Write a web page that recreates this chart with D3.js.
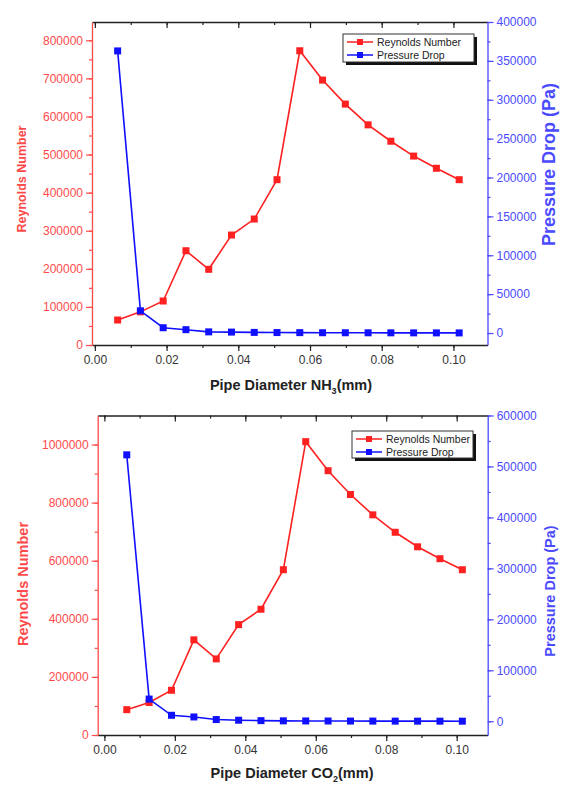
<!DOCTYPE html>
<html>
<head>
<meta charset="utf-8">
<script src="https://cdn.jsdelivr.net/npm/d3@7"></script>
<style>
  html, body { margin: 0; padding: 0; background: #fff; }
  svg { display: block; font-family: "Liberation Sans", Arial, sans-serif; }
</style>
</head>
<body>
<svg id="chart" width="564" height="785"></svg>
<script>
// ---------- DATA ----------
const diameters = [0.00635, 0.0127, 0.01905, 0.0254, 0.03175, 0.0381, 0.04445, 0.0508,
                   0.05715, 0.0635, 0.06985, 0.0762, 0.08255, 0.0889, 0.09525, 0.1016];

const reynoldsNH3 = [65600, 87000, 115500, 247500, 198700, 288700, 330700, 434000,
                     772500, 695500, 632500, 578000, 535000, 496000, 464000, 434000];
const pressureNH3 = [362800, 28600, 6800, 4300, 1500, 1200, 800, 600,
                     500, 400, 350, 300, 250, 200, 180, 150];

const reynoldsCO2 = [87200, 112000, 154000, 327600, 262000, 380000, 433000, 569000,
                     1010000, 910000, 828000, 758000, 698000, 648000, 607000, 569000];
const pressureCO2 = [522800, 43500, 11700, 8400, 3300, 2000, 1200, 800,
                     600, 450, 350, 280, 220, 180, 150, 120];

const xTicks = [0.00, 0.02, 0.04, 0.06, 0.08, 0.10];
const reTicksNH3 = [0, 100000, 200000, 300000, 400000, 500000, 600000, 700000, 800000];
const pdTicksNH3 = [0, 50000, 100000, 150000, 200000, 250000, 300000, 350000, 400000];
const reTicksCO2 = [0, 200000, 400000, 600000, 800000, 1000000];
const pdTicksCO2 = [0, 100000, 200000, 300000, 400000, 500000, 600000];

const seriesNames = ["Reynolds Number", "Pressure Drop"];

// ---------- STYLE ----------
const RED = "#ff2020", BLUE = "#1010ff";
const RED_TXT = "#ff4a4a", BLUE_TXT = "#4a4aff";
const svg = d3.select("#chart");

function panel(cfg) {
  const g = svg.append("g");
  const x = d3.scaleLinear().domain(cfg.xDomain).range([cfg.left, cfg.right]);
  const yL = d3.scaleLinear().domain(cfg.reDomain).range([cfg.bottom, cfg.top]);
  const yR = d3.scaleLinear().domain(cfg.pdDomain).range([cfg.bottom, cfg.top]);

  // bottom axis (minor ticks)
  const xMinor = d3.range(0, cfg.xDomain[1] + 1e-9, 0.01);
  g.append("g").attr("transform", `translate(0,${cfg.bottom})`)
    .call(d3.axisBottom(x).tickValues(xMinor).tickSize(3).tickFormat(""))
    .call(a => a.select(".domain").remove())
    .selectAll("line").attr("stroke", "#222").attr("stroke-width", 1.2);
  const xAx = g.append("g").attr("transform", `translate(0,${cfg.bottom})`)
    .call(d3.axisBottom(x).tickValues(xTicks).tickSize(6).tickSizeOuter(0).tickPadding(4)
      .tickFormat(d3.format(".2f")));
  xAx.select(".domain").attr("stroke", "#222").attr("stroke-width", 1.3);
  xAx.selectAll("line").attr("stroke", "#222").attr("stroke-width", 1.2);
  xAx.selectAll("text").attr("fill", "#333").style("font-size", "12px");

  // top axis (mirrored, inward ticks)
  g.append("g").attr("transform", `translate(0,${cfg.top})`)
    .call(d3.axisTop(x).tickValues(xMinor).tickSize(-3).tickFormat(""))
    .call(a => a.select(".domain").remove())
    .selectAll("line").attr("stroke", "#222").attr("stroke-width", 1.2);
  const tAx = g.append("g").attr("transform", `translate(0,${cfg.top})`)
    .call(d3.axisTop(x).tickValues(xTicks).tickSize(-6).tickSizeOuter(0).tickFormat(""));
  tAx.select(".domain").attr("stroke", "#222").attr("stroke-width", 1.3);
  tAx.selectAll("line").attr("stroke", "#222").attr("stroke-width", 1.2);

  // left axis
  const reMinor = d3.range(0, cfg.reDomain[1], cfg.reStep / 2);
  g.append("g").attr("transform", `translate(${cfg.left},0)`)
    .call(d3.axisLeft(yL).tickValues(reMinor).tickSize(3).tickFormat(""))
    .call(a => a.select(".domain").remove())
    .selectAll("line").attr("stroke", RED_TXT).attr("stroke-width", 1.2);
  const lAx = g.append("g").attr("transform", `translate(${cfg.left},0)`)
    .call(d3.axisLeft(yL).tickValues(cfg.reTicks).tickSize(6).tickSizeOuter(0).tickPadding(3)
      .tickFormat(d3.format("d")));
  lAx.select(".domain").attr("stroke", RED_TXT).attr("stroke-width", 1.3);
  lAx.selectAll("line").attr("stroke", RED_TXT).attr("stroke-width", 1.2);
  lAx.selectAll("text").attr("fill", RED_TXT).style("font-size", "12px");

  // right axis
  const pdMinor = d3.range(0, cfg.pdDomain[1] + 1, cfg.pdStep / 2);
  g.append("g").attr("transform", `translate(${cfg.right},0)`)
    .call(d3.axisRight(yR).tickValues(pdMinor).tickSize(3).tickFormat(""))
    .call(a => a.select(".domain").remove())
    .selectAll("line").attr("stroke", BLUE_TXT).attr("stroke-width", 1.2);
  const rAx = g.append("g").attr("transform", `translate(${cfg.right},0)`)
    .call(d3.axisRight(yR).tickValues(cfg.pdTicks).tickSize(6).tickSizeOuter(0).tickPadding(3)
      .tickFormat(d3.format("d")));
  rAx.select(".domain").attr("stroke", BLUE_TXT).attr("stroke-width", 1.3);
  rAx.selectAll("line").attr("stroke", BLUE_TXT).attr("stroke-width", 1.2);
  rAx.selectAll("text").attr("fill", BLUE_TXT).style("font-size", "12px");

  // series
  const reData = diameters.map((d, i) => [d, cfg.re[i]]);
  const pdData = diameters.map((d, i) => [d, cfg.pd[i]]);
  const lineL = d3.line().x(d => x(d[0])).y(d => yL(d[1]));
  const lineR = d3.line().x(d => x(d[0])).y(d => yR(d[1]));

  function drawSeries(data, line, yS, color) {
    g.append("path").datum(data).attr("d", line)
      .attr("fill", "none").attr("stroke", color).attr("stroke-width", 1.6);
    g.selectAll(null).data(data).enter().append("rect")
      .attr("x", d => x(d[0]) - 3.5).attr("y", d => yS(d[1]) - 3.5)
      .attr("width", 7).attr("height", 7).attr("fill", color);
  }
  drawSeries(reData, lineL, yL, RED);
  drawSeries(pdData, lineR, yR, BLUE);

  // titles
  const T = cfg.titles;
  g.append("text").attr("transform", `translate(${T.lx},${T.ly}) rotate(-90)`)
    .attr("text-anchor", "middle").attr("fill", RED_TXT)
    .style("font-size", T.ls + "px").style("font-weight", "bold").text("Reynolds Number");
  g.append("text").attr("transform", `translate(${T.rx},${T.ry}) rotate(-90)`)
    .attr("text-anchor", "middle").attr("fill", BLUE_TXT)
    .style("font-size", T.rs + "px").style("font-weight", "bold").text("Pressure Drop (Pa)");
  const xt = g.append("text").attr("x", T.xx).attr("y", T.xy)
    .attr("text-anchor", "middle").attr("fill", "#222")
    .style("font-size", "14.5px").style("font-weight", "bold");
  xt.append("tspan").text("Pipe Diameter " + cfg.gas);
  xt.append("tspan").attr("dy", 4).style("font-size", "9px").text(cfg.sub);
  xt.append("tspan").attr("dy", -4).text("(mm)");

  // legend
  const L = cfg.legend;
  g.append("rect").attr("x", L.x + 3).attr("y", L.y + 3).attr("width", L.w).attr("height", L.h).attr("fill", "#111");
  g.append("rect").attr("x", L.x).attr("y", L.y).attr("width", L.w).attr("height", L.h)
    .attr("fill", "#fff").attr("stroke", "#333").attr("stroke-width", 1);
  const colors = [RED, BLUE];
  seriesNames.forEach((name, i) => {
    const yy = L.y + 8 + i * 13;
    g.append("line").attr("x1", L.x + 4).attr("x2", L.x + 30).attr("y1", yy).attr("y2", yy)
      .attr("stroke", colors[i]).attr("stroke-width", 1.5);
    g.append("rect").attr("x", L.x + 14).attr("y", yy - 3).attr("width", 6).attr("height", 6).attr("fill", colors[i]);
    g.append("text").attr("x", L.x + 34).attr("y", yy + 4).attr("fill", "#222")
      .style("font-size", "10.5px").text(name);
  });
}

panel({
  left: 92, right: 487.5, top: 22, bottom: 345,
  xDomain: [-0.0008, 0.1095],
  reDomain: [0, 848000], reTicks: reTicksNH3, reStep: 100000,
  pdDomain: [-15400, 400000], pdTicks: pdTicksNH3, pdStep: 50000,
  re: reynoldsNH3, pd: pressureNH3,
  gas: "NH", sub: "3",
  titles: { lx: 25.5, ly: 179, ls: 12.5, rx: 554.5, ry: 164.5, rs: 18, xx: 291, xy: 390 },
  legend: { x: 343, y: 34, w: 131, h: 28 }
});

panel({
  left: 97.7, right: 487.7, top: 415.5, bottom: 735,
  xDomain: [-0.0019, 0.1088],
  reDomain: [0, 1100000], reTicks: reTicksCO2, reStep: 200000,
  pdDomain: [-27000, 600000], pdTicks: pdTicksCO2, pdStep: 100000,
  re: reynoldsCO2, pd: pressureCO2,
  gas: "CO", sub: "2",
  titles: { lx: 28, ly: 584, ls: 14.5, rx: 555, ry: 591, rs: 14.5, xx: 292, xy: 778 },
  legend: { x: 352, y: 431, w: 121, h: 27 }
});
</script>
</body>
</html>
